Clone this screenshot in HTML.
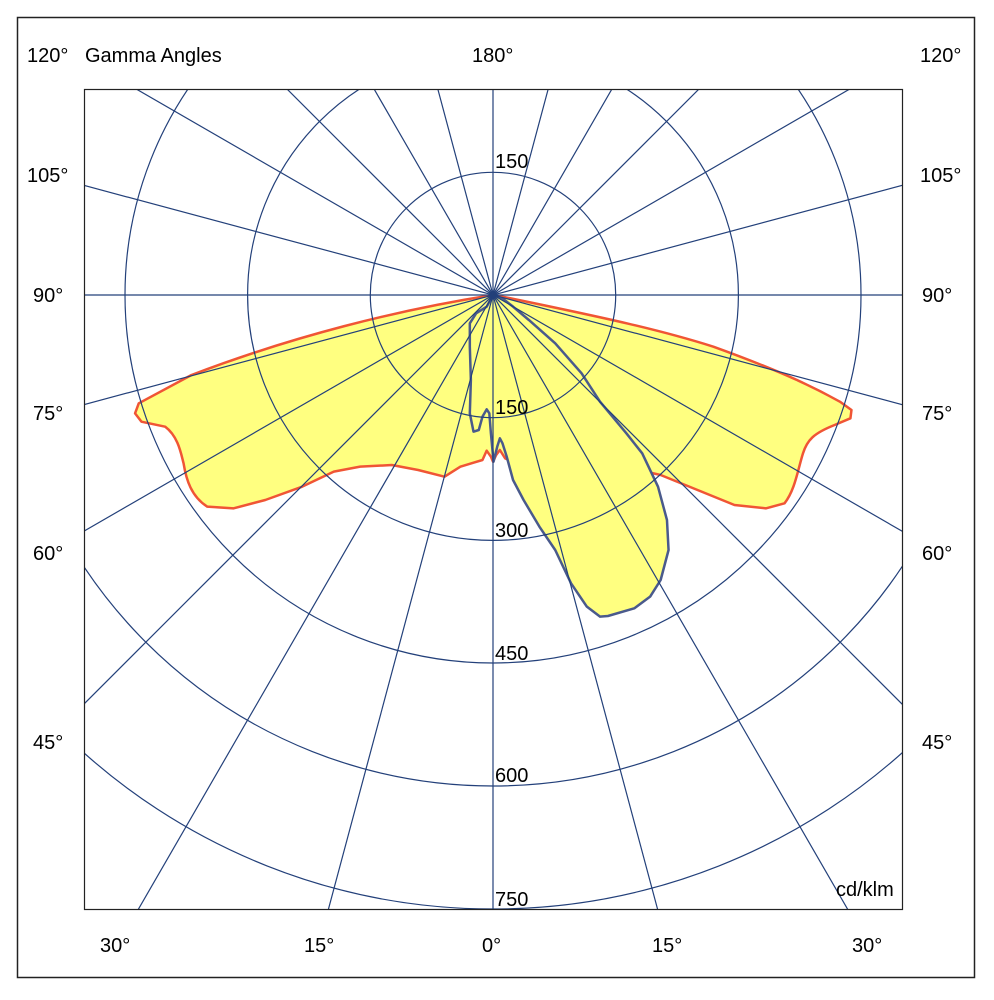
<!DOCTYPE html>
<html><head><meta charset="utf-8"><style>
html,body{margin:0;padding:0;background:#fff;width:994px;height:1000px;overflow:hidden;}
svg{display:block;}
text{font-family:"Liberation Sans",Arial,sans-serif;font-size:20px;fill:#000;}
</style></head><body>
<svg width="994" height="1000" viewBox="0 0 994 1000" xmlns="http://www.w3.org/2000/svg">
<rect x="17.5" y="17.5" width="957" height="960" fill="none" stroke="#222" stroke-width="1.5"/>
<defs><clipPath id="c"><rect x="85" y="89" width="818" height="820"/></clipPath></defs>
<g clip-path="url(#c)">
  <g transform="translate(85,80) scale(0.52715,0.33333) translate(-8,0)">
    <path vector-effect="non-scaling-stroke" fill="#ffff80" stroke="#f05535" stroke-width="2.5" stroke-linejoin="round" d="M782,645 C600,690 400,770 210,885 L110,970 L103,1000 L115,1025 L160,1040 C185,1070 190,1120 195,1150 C200,1200 210,1250 240,1280 L290,1285 L350,1260 L420,1220 L480,1175 L530,1160 L590,1155 L640,1170 L690,1190 L720,1160 L745,1148 L762,1140 L770,1112 L778,1130 L782,1145 L788,1125 L795,1110 L805,1135 L840,1160 L875,1190 L920,1170 L965,1155 L1030,1160 L1100,1185 L1170,1230 L1240,1275 L1300,1285 L1335,1270 C1355,1230 1360,1170 1370,1120 C1378,1080 1390,1060 1430,1035 L1460,1015 L1462,990 L1440,965 C1400,930 1340,880 1200,800 C1100,750 1000,715 800,650 Z"/>
    <path vector-effect="non-scaling-stroke" fill="#ffff80" stroke="#4a5a8c" stroke-width="2.5" stroke-linejoin="round" d="M782,645 L770,680 L750,700 L738,730 L738,800 L740,900 L738,1000 L745,1055 L755,1050 L762,1010 L770,988 L775,1000 L778,1060 L783,1145 L790,1100 L795,1075 L800,1090 L808,1130 L820,1200 L840,1260 L870,1340 L900,1410 L930,1510 L960,1580 L985,1610 L1000,1608 L1050,1585 L1080,1550 L1100,1500 L1115,1410 L1112,1320 L1095,1220 L1065,1120 L1035,1060 L985,965 L950,880 L900,790 L850,720 L820,680 L800,655 Z"/>
  </g>
  <g stroke="#23407a" stroke-width="1.2" fill="none">
    <circle cx="493" cy="295" r="122.7"/>
    <circle cx="493" cy="295" r="245.4"/>
    <circle cx="493" cy="295" r="368"/>
    <circle cx="493" cy="295" r="491"/>
    <circle cx="493" cy="295" r="614"/>
    <line x1="493" y1="-700" x2="493" y2="1300"/>
    <line x1="493" y1="-700" x2="493" y2="1300" transform="rotate(15 493 295)"/>
    <line x1="493" y1="-700" x2="493" y2="1300" transform="rotate(30 493 295)"/>
    <line x1="493" y1="-700" x2="493" y2="1300" transform="rotate(45 493 295)"/>
    <line x1="493" y1="-700" x2="493" y2="1300" transform="rotate(60 493 295)"/>
    <line x1="493" y1="-700" x2="493" y2="1300" transform="rotate(75 493 295)"/>
    <line x1="493" y1="-700" x2="493" y2="1300" transform="rotate(90 493 295)"/>
    <line x1="493" y1="-700" x2="493" y2="1300" transform="rotate(105 493 295)"/>
    <line x1="493" y1="-700" x2="493" y2="1300" transform="rotate(120 493 295)"/>
    <line x1="493" y1="-700" x2="493" y2="1300" transform="rotate(135 493 295)"/>
    <line x1="493" y1="-700" x2="493" y2="1300" transform="rotate(150 493 295)"/>
    <line x1="493" y1="-700" x2="493" y2="1300" transform="rotate(165 493 295)"/>
  </g>
</g>
<rect x="84.5" y="89.5" width="818" height="820" fill="none" stroke="#222" stroke-width="1.2"/>
<text x="495" y="168">150</text>
<text x="495" y="414">150</text>
<text x="495" y="537">300</text>
<text x="495" y="660">450</text>
<text x="495" y="782">600</text>
<text x="495" y="906">750</text>
<text x="836" y="896">cd/klm</text>
<text x="27" y="62">120°</text>
<text x="85" y="62">Gamma Angles</text>
<text x="472" y="62">180°</text>
<text x="920" y="62">120°</text>
<text x="27" y="182">105°</text><text x="920" y="182">105°</text>
<text x="33" y="302">90°</text><text x="922" y="302">90°</text>
<text x="33" y="420">75°</text><text x="922" y="420">75°</text>
<text x="33" y="560">60°</text><text x="922" y="560">60°</text>
<text x="33" y="749">45°</text><text x="922" y="749">45°</text>
<text x="100" y="952">30°</text>
<text x="304" y="952">15°</text>
<text x="482" y="952">0°</text>
<text x="652" y="952">15°</text>
<text x="852" y="952">30°</text>
</svg>
</body></html>
